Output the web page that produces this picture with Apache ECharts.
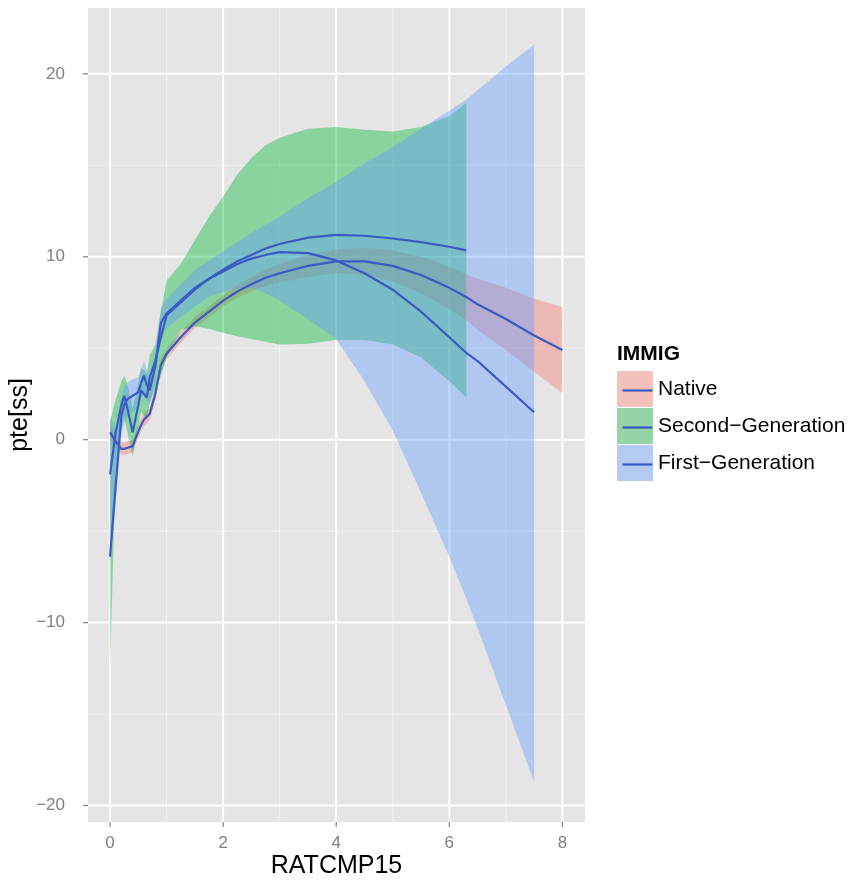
<!DOCTYPE html>
<html>
<head>
<meta charset="utf-8">
<script src="https://cdn.jsdelivr.net/npm/echarts@6/dist/echarts.min.js"></script>
<style>
  html, body { margin: 0; padding: 0; background: #fff; }
  #chart { width: 848px; height: 880px; }
</style>
</head>
<body>
<div id="chart"></div>
<script>
// x positions shared by all three fits (each group stops at its own max)
var xs = [0, 0.1, 0.2, 0.25, 0.3, 0.4, 0.5, 0.55, 0.6, 0.65, 0.7, 0.8, 0.9, 1.0, 1.25, 1.5, 1.75, 2, 2.25, 2.5, 2.75, 3, 3.5, 4, 4.5, 5, 5.5, 6, 6.3, 6.5, 7, 7.5, 8];

// Native
var nativeFit = [0.4, -0.1, -0.5, -0.5, -0.45, -0.35, 0.45, 0.8, 1.1, 1.25, 1.4, 2.5, 4.1, 4.7, 5.6, 6.4, 7.0, 7.6, 8.1, 8.5, 8.85, 9.1, 9.5, 9.75, 9.75, 9.5, 9.0, 8.3, 7.8, 7.4, 6.6, 5.7, 4.9];
var nativeLo = [0.0, -0.45, -0.85, -0.85, -0.8, -0.7, 0.1, 0.45, 0.75, 0.9, 1.05, 2.15, 3.75, 4.4, 5.3, 6.1, 6.7, 7.3, 7.75, 8.1, 8.4, 8.6, 8.9, 9.1, 9.0, 8.65, 8.0, 7.15, 6.55, 6.0, 4.9, 3.7, 2.55];
var nativeHi = [0.8, 0.25, -0.15, -0.15, -0.1, 0.0, 0.8, 1.15, 1.45, 1.6, 1.75, 2.85, 4.45, 5.0, 5.9, 6.7, 7.3, 7.9, 8.45, 8.9, 9.3, 9.6, 10.1, 10.4, 10.5, 10.35, 10.0, 9.45, 9.05, 8.8, 8.3, 7.7, 7.25];

// Second-Generation
var secondFit = [-1.9, 0.4, 1.9, 2.4, 1.8, 0.4, 1.9, 2.7, 2.5, 2.3, 3.4, 4.3, 5.6, 6.8, 7.5, 8.2, 8.8, 9.3, 9.75, 10.1, 10.45, 10.7, 11.05, 11.2, 11.15, 11.0, 10.8, 10.55, 10.35];
var secondLo = [-12.5, -1.5, 0.6, 1.2, 0.5, -0.9, 0.7, 1.5, 1.3, 1.1, 2.0, 2.8, 3.5, 4.5, 6.0, 6.2, 6.05, 5.85, 5.65, 5.5, 5.35, 5.2, 5.25, 5.45, 5.45, 5.2, 4.5, 3.2, 2.3];
var secondHi = [1.0, 2.2, 3.2, 3.5, 3.1, 1.7, 3.1, 3.9, 3.8, 3.6, 4.6, 5.2, 7.0, 8.7, 9.6, 10.9, 12.2, 13.3, 14.5, 15.4, 16.1, 16.5, 17.0, 17.1, 16.95, 16.85, 17.1, 17.7, 18.4];

// First-Generation
var firstFit = [-6.4, -2.5, 1.3, 1.9, 2.2, 2.4, 2.6, 3.1, 3.5, 3.0, 2.7, 4.0, 6.4, 6.9, 7.6, 8.3, 8.8, 9.2, 9.6, 9.9, 10.1, 10.25, 10.2, 9.8, 9.1, 8.2, 7.0, 5.6, 4.75, 4.3, 2.9, 1.5];
var firstLo = [-6.6, -3.5, 0.3, 0.9, 1.3, 1.5, 1.8, 2.3, 2.7, 2.2, 1.9, 3.2, 5.6, 6.1, 6.7, 7.3, 7.8, 8.1, 8.25, 8.3, 8.0, 7.6, 6.6, 5.5, 3.2, 0.5, -2.9, -6.4, -8.7, -10.3, -14.5, -18.7];
var firstHi = [1.3, 0.5, 2.3, 2.9, 3.1, 3.3, 3.4, 3.9, 4.3, 3.8, 3.5, 4.8, 7.2, 7.7, 8.5, 9.3, 9.8, 10.3, 10.8, 11.3, 11.75, 12.2, 13.2, 14.1, 15.1, 16.0, 17.0, 18.0, 18.6, 19.1, 20.4, 21.6];

var groups = ['Native', 'Second\u2212Generation', 'First\u2212Generation'];
var xTicks = [0, 2, 4, 6, 8];
var xMinor = [1, 3, 5, 7];
var yTicks = [-20, -10, 0, 10, 20];
var yMinor = [-15, -5, 5, 15];

var FONT = 'Liberation Sans, Arial, sans-serif';
var LINE = '#3A5BC4';
var TICK = '#7F7F7F';
var fills = ['rgba(248,118,109,0.4)', 'rgba(0,186,56,0.4)', 'rgba(97,156,255,0.4)'];
var keyFills = ['#F4C0BC', '#95D4A6', '#B4CAF0'];

function pairs(vals) {
    return vals.map(function (v, i) { return [xs[i], v]; });
}

// band drawn as one polygon through the axes
function ribbon(lo, hi, fill) {
    return {
        type: 'custom',
        silent: true,
        data: [[xs[0], lo[0]]],
        renderItem: function (params, api) {
            var pts = [];
            for (var i = 0; i < lo.length; i++) pts.push(api.coord([xs[i], lo[i]]));
            for (var j = hi.length - 1; j >= 0; j--) pts.push(api.coord([xs[j], hi[j]]));
            return { type: 'polygon', shape: { points: pts }, style: { fill: fill } };
        }
    };
}

function fitLine(vals) {
    return {
        type: 'line',
        silent: true,
        data: pairs(vals),
        showSymbol: false,
        lineStyle: { color: LINE, width: 2.2 },
        clip: true
    };
}

// ggplot-like panel grid plus the small outside ticks
var gridSeries = {
    type: 'custom',
    silent: true,
    clip: false,
    data: [[0, 0]],
    renderItem: function (params, api) {
        var cs = params.coordSys;
        var kids = [];
        function seg(x1, y1, x2, y2, w, c) {
            kids.push({ type: 'line', shape: { x1: x1, y1: y1, x2: x2, y2: y2 }, style: { stroke: c, lineWidth: w } });
        }
        var bottom = cs.y + cs.height;
        xMinor.forEach(function (v) { var x = api.coord([v, 0])[0]; seg(x, cs.y, x, bottom, 1, '#F2F2F2'); });
        yMinor.forEach(function (v) { var y = api.coord([0, v])[1]; seg(cs.x, y, cs.x + cs.width, y, 1, '#F2F2F2'); });
        xTicks.forEach(function (v) {
            var x = api.coord([v, 0])[0];
            seg(x, cs.y, x, bottom, 2, '#FFFFFF');
            seg(x, bottom, x, bottom + 5, 1.2, TICK);
        });
        yTicks.forEach(function (v) {
            var y = api.coord([0, v])[1];
            seg(cs.x, y, cs.x + cs.width, y, 2, '#FFFFFF');
            seg(cs.x - 5, y, cs.x, y, 1.2, TICK);
        });
        return { type: 'group', children: kids };
    }
};

// legend drawn by hand: filled key + line + label
var legendItems = [{ type: 'text', left: 617, top: 344, style: { text: 'IMMIG', font: 'bold 21px ' + FONT, fill: '#000' } }];
groups.forEach(function (g, i) {
    var top = 371 + i * 37;
    legendItems.push({ type: 'rect', left: 617, top: top, shape: { width: 36, height: 36 }, style: { fill: keyFills[i] } });
    legendItems.push({ type: 'line', left: 620, top: top + 17, shape: { x1: 0, y1: 0, x2: 30, y2: 0 }, style: { stroke: LINE, lineWidth: 2.2 } });
    legendItems.push({ type: 'text', left: 658, top: top + 8, style: { text: g, font: '21px ' + FONT, fill: '#000' } });
});

var minus = function (v) { return String(v).replace('-', '\u2212'); };

var chart = echarts.init(document.getElementById('chart'));
chart.setOption({
    animation: false,
    backgroundColor: '#fff',
    textStyle: { fontFamily: FONT },
    grid: {
        left: 88, right: 263, top: 8, bottom: 58,
        containLabel: false, outerBoundsMode: 'none',
        show: true, backgroundColor: '#E5E5E5', borderWidth: 0
    },
    xAxis: {
        type: 'value', min: -0.39, max: 8.4,
        name: 'RATCMP15', nameLocation: 'middle', nameGap: 32, nameMoveOverlap: false,
        nameTextStyle: { fontSize: 25, color: '#000', fontFamily: FONT },
        axisLine: { show: false },
        splitLine: { show: false },
        axisTick: { show: false },
        axisLabel: { customValues: xTicks, color: '#7F7F7F', fontSize: 17, margin: 13, fontFamily: FONT }
    },
    yAxis: {
        type: 'value', min: -20.9, max: 23.6,
        name: 'pte[ss]', nameLocation: 'middle', nameGap: 55, nameRotate: 90, nameMoveOverlap: false,
        nameTextStyle: { fontSize: 25, color: '#000', fontFamily: FONT },
        axisLine: { show: false },
        splitLine: { show: false },
        axisTick: { show: false },
        axisLabel: { customValues: yTicks, color: '#7F7F7F', fontSize: 17, margin: 23, fontFamily: FONT, formatter: minus }
    },
    graphic: legendItems,
    series: [
        gridSeries,
        ribbon(nativeLo, nativeHi, fills[0]),
        fitLine(nativeFit),
        ribbon(secondLo, secondHi, fills[1]),
        fitLine(secondFit),
        ribbon(firstLo, firstHi, fills[2]),
        fitLine(firstFit)
    ]
});
</script>
</body>
</html>
